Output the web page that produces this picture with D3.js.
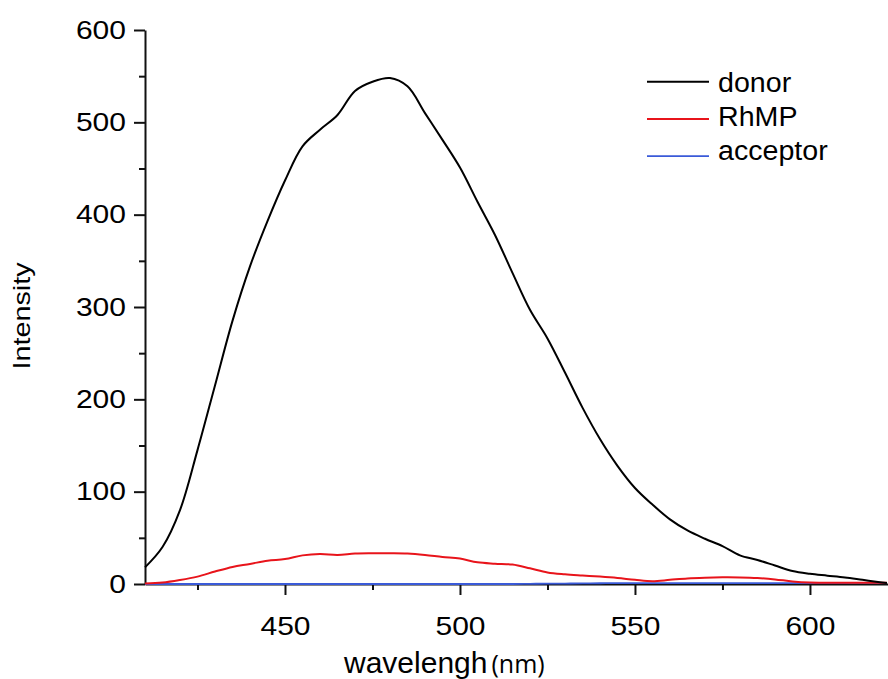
<!DOCTYPE html>
<html>
<head>
<meta charset="utf-8">
<script src="https://cdn.jsdelivr.net/npm/d3@7"></script>
<style>
  body { margin: 0; background: #fff; }
  svg { display: block; }
  text { font-family: "Liberation Sans", Arial, sans-serif; fill: #000; }
</style>
</head>
<body>
<div id="chart-container"></div>
<script>
// wavelength grid (nm) and intensities
const wavelengths = [410, 415, 420, 425, 430, 435, 440, 445, 450, 455,
                     460, 465, 470, 475, 480, 485, 490, 495, 500, 505,
                     510, 515, 520, 525, 530, 535, 540, 545, 550, 555,
                     560, 565, 570, 575, 580, 585, 590, 595, 600, 605,
                     610, 615, 620, 622];
const donor = [18, 40, 80, 145, 215, 285, 344, 393, 437, 474,
               492, 508, 534, 544, 548, 539, 510, 481, 451, 414,
               378, 337, 297, 266, 229, 191, 157, 128, 104, 86,
               70, 58, 49, 41, 31, 26, 20, 14, 11, 9,
               7, 4.5, 2, 1];
const rhmp = [0.5, 1.5, 4.3, 8, 13.5, 18.5, 21.7, 25.3, 27, 31,
              32.5, 31.5, 33, 33.3, 33.3, 33, 31.5, 29.3, 27.5, 23.5,
              22, 21, 17, 12.5, 10.5, 9.2, 8, 6.5, 4.5, 3,
              4.5, 6, 6.8, 7.2, 7.1, 6.5, 5, 2.8, 1.6, 1.4,
              1.4, 1.4, 1.4, 1.4];
const acceptor = [0, 0, 0, 0, 0, 0, 0, 0, 0, 0,
                  0, 0, 0, 0, 0, 0, 0, 0, 0, 0,
                  0, 0, 0.2, 0.4, 0.5, 0.6, 0.8, 1, 1, 1,
                  1, 1, 1, 1, 1, 1, 1, 1, 1, 1,
                  1.1, 1.2, 1.2, 1.2];

const seriesNames = ["donor", "RhMP", "acceptor"];
const seriesColors = ["#000000", "#e8141b", "#3a5ad8"];
const yTicks = [0, 100, 200, 300, 400, 500, 600];
const yMinorTicks = [50, 150, 250, 350, 450, 550];
const xTicks = [450, 500, 550, 600];
const xMinorTicks = [425, 475, 525, 575];

const width = 888;
const height = 679;
const margin = { top: 30, right: 0, bottom: 95, left: 145 };

const x = d3.scaleLinear()
    .domain([410, 622.3])
    .range([margin.left, width - margin.right]);

const y = d3.scaleLinear()
    .domain([0, 600])
    .range([height - margin.bottom, margin.top]);

const svg = d3.select("#chart-container")
    .append("svg")
    .attr("width", width)
    .attr("height", height);

// stretch text a bit wider, the original glyphs look broader than Arial
function widen(sel, factor) {
    sel.each(function() {
        const len = this.getComputedTextLength();
        d3.select(this)
            .attr("textLength", len * factor)
            .attr("lengthAdjust", "spacingAndGlyphs");
    });
}

// minor ticks first, then the labelled axes on top
svg.append("g")
    .attr("transform", "translate(0," + y(0) + ")")
    .call(d3.axisBottom(x).tickValues(xMinorTicks).tickSize(6).tickFormat(""))
    .call(g => g.select(".domain").remove())
    .selectAll("line").attr("stroke", "#111").attr("stroke-width", 2);

svg.append("g")
    .attr("transform", "translate(" + x(410) + ",0)")
    .call(d3.axisLeft(y).tickValues(yMinorTicks).tickSize(6).tickFormat(""))
    .call(g => g.select(".domain").remove())
    .selectAll("line").attr("stroke", "#111").attr("stroke-width", 2);

const xAxis = svg.append("g")
    .attr("transform", "translate(0," + y(0) + ")")
    .call(d3.axisBottom(x).tickValues(xTicks).tickSize(11).tickSizeOuter(0).tickPadding(22));
xAxis.select(".domain").attr("stroke", "#111").attr("stroke-width", 2);
xAxis.selectAll("line").attr("stroke", "#111").attr("stroke-width", 2);
xAxis.selectAll("text")
    .style("font-size", "25px")
    .attr("fill", "#000")
    .call(widen, 1.2);

const yAxis = svg.append("g")
    .attr("transform", "translate(" + x(410) + ",0)")
    .call(d3.axisLeft(y).tickValues(yTicks).tickSize(11).tickSizeOuter(0).tickPadding(8));
yAxis.select(".domain").attr("stroke", "#111").attr("stroke-width", 2);
yAxis.selectAll("line").attr("stroke", "#111").attr("stroke-width", 2);
yAxis.selectAll("text")
    .style("font-size", "25px")
    .attr("fill", "#000")
    .call(widen, 1.2);

// spectra
const series = [acceptor, rhmp, donor];
const order = [2, 1, 0];

const line = d3.line()
    .x(function(d, i) { return x(wavelengths[i]); })
    .y(function(d) { return y(d); })
    .curve(d3.curveCatmullRom.alpha(0.5));

svg.selectAll(".spectrum")
    .data(series)
    .enter().append("path")
    .attr("class", "spectrum")
    .attr("fill", "none")
    .attr("stroke", function(d, i) { return seriesColors[order[i]]; })
    .attr("stroke-width", function(d, i) { return order[i] === 2 ? 1.8 : 2; })
    .attr("d", line);

// axis titles
svg.append("text")
    .attr("transform", "translate(30,316) rotate(-90)")
    .attr("text-anchor", "middle")
    .style("font-size", "24px")
    .text("Intensity")
    .call(widen, 1.2);

const xTitle = svg.append("text")
    .attr("x", 344)
    .attr("y", 673);
xTitle.append("tspan")
    .style("font-size", "30px")
    .text("wavelengh");
xTitle.append("tspan")
    .attr("dx", 4)
    .style("font-size", "25px")
    .style("font-family", "'Open Sans', sans-serif")
    .text("(nm)");

// legend
const legend = svg.selectAll(".legend")
    .data(seriesNames)
    .enter().append("g")
    .attr("class", "legend")
    .attr("transform", function(d, i) { return "translate(647," + (91.7 + i * 34.2) + ")"; });

legend.append("line")
    .attr("x1", 0)
    .attr("x2", 62)
    .attr("y1", function(d, i) { return -10 + i * 3; })
    .attr("y2", function(d, i) { return -10 + i * 3; })
    .attr("stroke", function(d, i) { return seriesColors[i]; })
    .attr("stroke-width", function(d, i) { return i === 2 ? 1.6 : 2; });

legend.append("text")
    .attr("x", 71)
    .attr("y", 0)
    .style("font-size", "27px")
    .text(function(d) { return d; })
    .call(widen, 1.06);
</script>
</body>
</html>
